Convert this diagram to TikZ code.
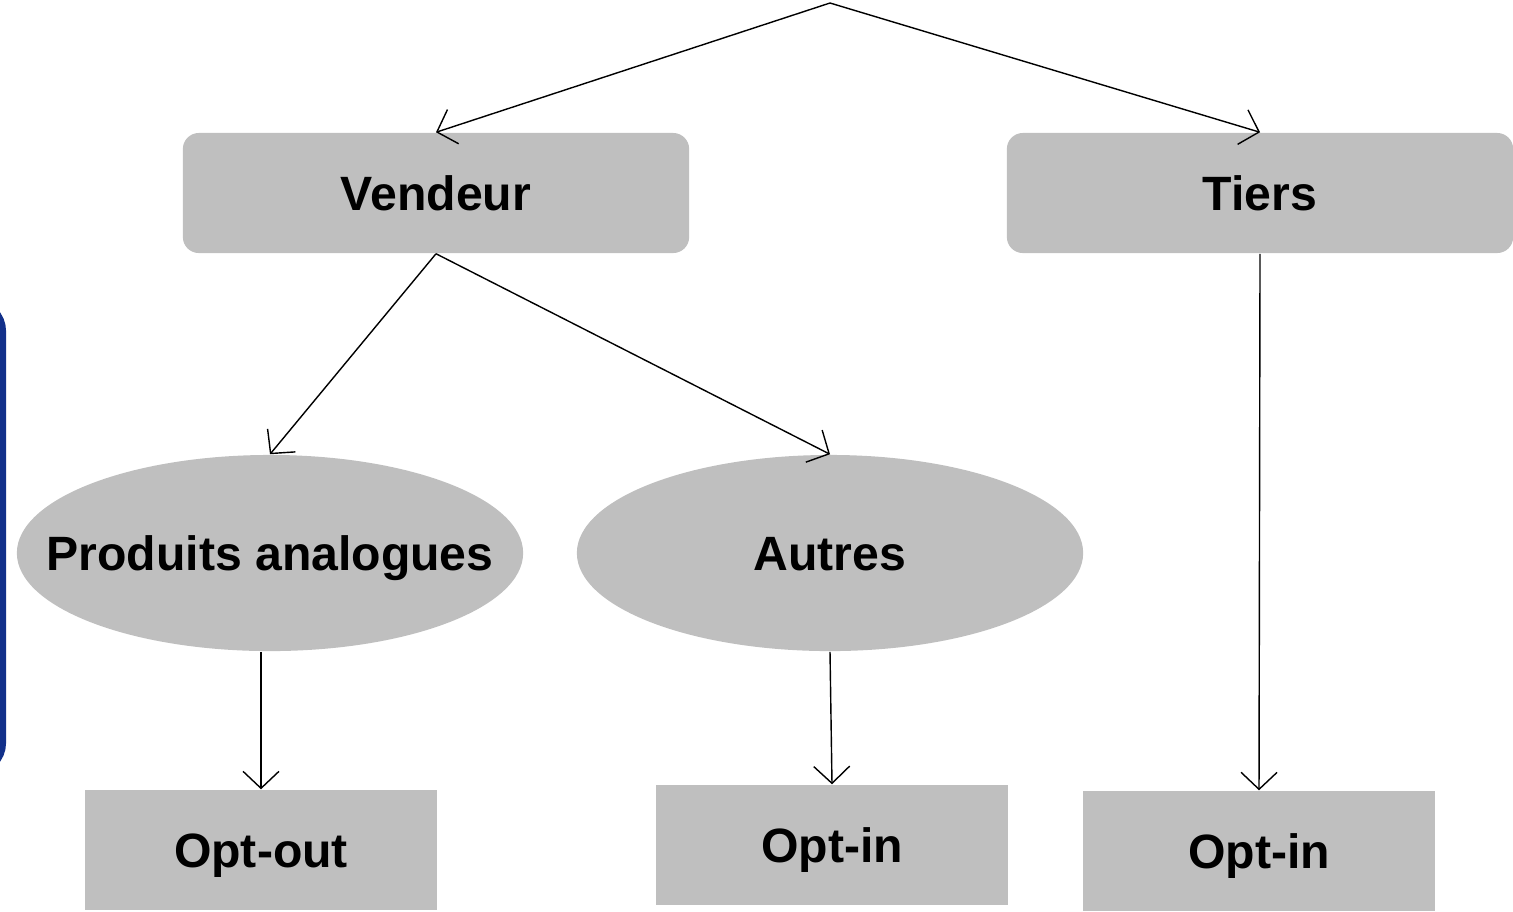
\documentclass[tikz,border=0pt]{standalone}
\usepackage{fontspec}
\setmainfont{Liberation Sans}
\usetikzlibrary{shapes,arrows,positioning,calc,arrows.meta}
\definecolor{boxgray}{RGB}{191,191,191}
\definecolor{sideblue}{RGB}{18,48,138}

\begin{document}
\begin{tikzpicture}[x=0.01cm, y=-0.01cm,
    every node/.style={font=\fontsize{13.7}{16}\selectfont\bfseries, inner sep=0pt, text height=9.8pt, text depth=0pt},
    party/.style={fill=boxgray, rounded corners=0.16cm, minimum width=5.06cm, minimum height=1.2cm},
    usage/.style={fill=boxgray, ellipse, minimum width=5.06cm, minimum height=1.96cm},
    rule/.style={fill=boxgray, minimum width=3.52cm, minimum height=1.2cm},
    link/.style={-{Straight Barb[length=1.7mm, width=3.6mm]}, thin}]
    \useasboundingbox (0,0) rectangle (1513,911);
    \draw[sideblue, line width=4pt, rounded corners=0.25cm] (-100,306) rectangle (-1,768);
    \coordinate (root) at (830,3);
    \node[party] (vendeur) at (436,193) {Vendeur};
    \node[party] (tiers) at (1260,193) {Tiers};
    \node[usage, label=center:Produits analogues] (analogues) at (270,553) {};
    \node[usage, label=center:Autres] (autres) at (830,553) {};
    \node[rule] (optout) at (261,850) {Opt-out};
    \node[rule] (optin1) at (832,845) {Opt-in};
    \node[rule] (optin2) at (1259,851) {Opt-in};
    \draw[link] (root) -- (vendeur.north);
    \draw[link] (root) -- (tiers.north);
    \draw[link] (vendeur.south) -- (analogues.north);
    \draw[link] (vendeur.south) -- (autres.north);
    \draw[link] (analogues.south -| optout.north) -- (optout.north);
    \draw[link] (autres.south) -- (optin1.north);
    \draw[link] (tiers.south) -- (optin2.north);
\end{tikzpicture}
\end{document}
